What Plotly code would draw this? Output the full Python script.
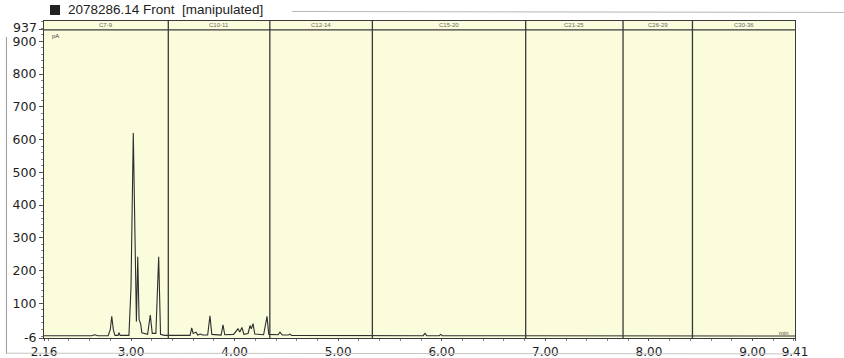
import plotly.graph_objects as go

# Detector trace (retention time in min, signal in pA)
time_min = [2.16, 2.40, 2.45, 2.50, 2.62, 2.65, 2.68, 2.78, 2.80, 2.814, 2.83, 2.845,
            2.875, 2.884, 2.895, 2.98, 3.00, 3.022, 3.04, 3.052, 3.065, 3.078, 3.093,
            3.105, 3.16, 3.186, 3.205, 3.24, 3.267, 3.285, 3.32, 3.57, 3.586, 3.60,
            3.627, 3.645, 3.67, 3.69, 3.74, 3.762, 3.78, 3.87, 3.888, 3.905, 3.99,
            4.033, 4.05, 4.071, 4.09, 4.13, 4.149, 4.162, 4.178, 4.195, 4.28, 4.313,
            4.33, 4.42, 4.438, 4.46, 4.52, 4.535, 4.55, 4.70, 5.00, 5.82, 5.838,
            5.855, 5.975, 5.99, 6.005, 7.00, 8.00, 9.41]
signal_pa = [1, 1, 3, 1, 1, 4, 1, 1, 20, 60, 18, 2,
             2, 10, 2, 2, 150, 620, 300, 44, 242, 50, 37,
             10, 5, 64, 8, 8, 242, 5, 2, 2, 25, 8,
             12, 3, 6, 3, 3, 62, 5, 3, 34, 4, 5,
             22, 12, 26, 5, 8, 32, 22, 38, 6, 4, 60,
             5, 4, 12, 3, 3, 6, 2, 2, 1, 1, 8,
             1, 1, 5, 1, 1, 0, 0]

# Carbon-range windows
window_edges = [2.16, 3.36, 4.34, 5.33, 6.81, 7.75, 8.42, 9.41]
window_labels = ["C7-9", "C10-11", "C12-14", "C15-20", "C21-25", "C26-29", "C30-36"]

# Axis ticks
x_tick_vals = [2.16, 3.0, 4.0, 5.0, 6.0, 7.0, 8.0, 9.0, 9.41]
x_tick_text = ["2.16", "3.00", "4.00", "5.00", "6.00", "7.00", "8.00", "9.00", "9.41"]
y_tick_vals = [-6, 100, 200, 300, 400, 500, 600, 700, 800, 900, 937]
y_tick_text = ["-6", "100", "200", "300", "400", "500", "600", "700", "800", "900", ""]
y_top_label = "937"

title_text = "2078286.14 Front  [manipulated]"

BG = "#fafcdc"
INK = "#1e1e1e"
FONT = "DejaVu Sans"

fig = go.Figure()
fig.add_trace(go.Scatter(x=time_min, y=signal_pa, mode="lines",
                         line=dict(color="#2e2e2e", width=1.1), hoverinfo="skip",
                         showlegend=False))

shapes = []
# window boundaries
for edge in window_edges[1:-1]:
    shapes.append(dict(type="line", xref="x", yref="paper", x0=edge, x1=edge, y0=0, y1=1,
                       line=dict(color="#3a3a3a", width=1.3)))
# header band line
shapes.append(dict(type="line", xref="paper", yref="y", x0=0, x1=1, y0=935, y1=935,
                   line=dict(color="#3a3a3a", width=1.3)))
# title marker square
shapes.append(dict(type="rect", xref="paper", yref="paper", x0=0.008, x1=0.0213,
                   y0=1.019, y1=1.0505, fillcolor="#222222", line=dict(width=0)))
# page frame lines
shapes.append(dict(type="line", xref="paper", yref="paper", x0=0.33, x1=1.065,
                   y0=1.03, y1=1.027, line=dict(color="#b8b8b8", width=1)))
shapes.append(dict(type="line", xref="paper", yref="paper", x0=-0.05, x1=-0.05,
                   y0=-0.05, y1=0.95, line=dict(color="#9a9a9a", width=1)))
shapes.append(dict(type="line", xref="paper", yref="paper", x0=-0.05, x1=1.0,
                   y0=-0.048, y1=-0.05, line=dict(color="#c4c4c4", width=1)))

annotations = []
for i, lab in enumerate(window_labels):
    annotations.append(dict(x=(window_edges[i] + window_edges[i + 1]) / 2, y=950,
                            xref="x", yref="y", text=lab, showarrow=False,
                            font=dict(size=6, color="#666666", family="Liberation Sans")))
annotations.append(dict(x=0.0293, y=1.036, xref="paper", yref="paper", text=title_text,
                        showarrow=False, xanchor="left", yanchor="middle",
                        font=dict(size=13.5, color="#222222", family="Liberation Sans")))
annotations.append(dict(x=0.008, y=916, xref="paper", yref="y", text="pA",
                        showarrow=False, xanchor="left", yanchor="middle",
                        font=dict(size=6, color="#444444", family="Liberation Sans")))
annotations.append(dict(x=0.995, y=10, xref="paper", yref="y", text="min",
                        showarrow=False, xanchor="right", yanchor="middle",
                        font=dict(size=6, color="#444444", family="Liberation Sans")))
annotations.append(dict(x=0, y=937, xref="paper", yref="y", text=y_top_label,
                        showarrow=False, xanchor="right", yanchor="middle",
                        xshift=-5, yshift=2,
                        font=dict(size=12.5, color=INK, family=FONT)))

fig.update_layout(
    width=844, height=358,
    margin=dict(l=44, r=49, t=21, b=20, autoexpand=False),
    paper_bgcolor="white", plot_bgcolor=BG,
    shapes=shapes, annotations=annotations,
    font=dict(family=FONT, color=INK, size=12),
)
fig.update_xaxes(range=[2.16, 9.41], tickmode="array", tickvals=x_tick_vals,
                 ticktext=x_tick_text, showgrid=False, zeroline=False,
                 showline=True, linecolor="#3a3a3a", linewidth=1.3, mirror=True,
                 ticks="outside", ticklen=2, tickcolor="#555555",
                 ticklabelstandoff=0, automargin=False,
                 minor=dict(dtick=0.2, tick0=2.2, ticks="outside", ticklen=2,
                            tickcolor="#888888"),
                 tickfont=dict(size=12, color=INK, family=FONT))
fig.update_yaxes(range=[-6, 962], tickmode="array", tickvals=y_tick_vals,
                 ticktext=y_tick_text, showgrid=False, zeroline=False,
                 showline=True, linecolor="#3a3a3a", linewidth=1.3, mirror=True,
                 ticks="outside", ticklen=4, tickcolor="#555555", automargin=False,
                 minor=dict(dtick=20, tick0=0, ticks="outside", ticklen=2,
                            tickcolor="#888888"),
                 tickfont=dict(size=12.5, color=INK, family=FONT))

fig.write_html("out.html")
